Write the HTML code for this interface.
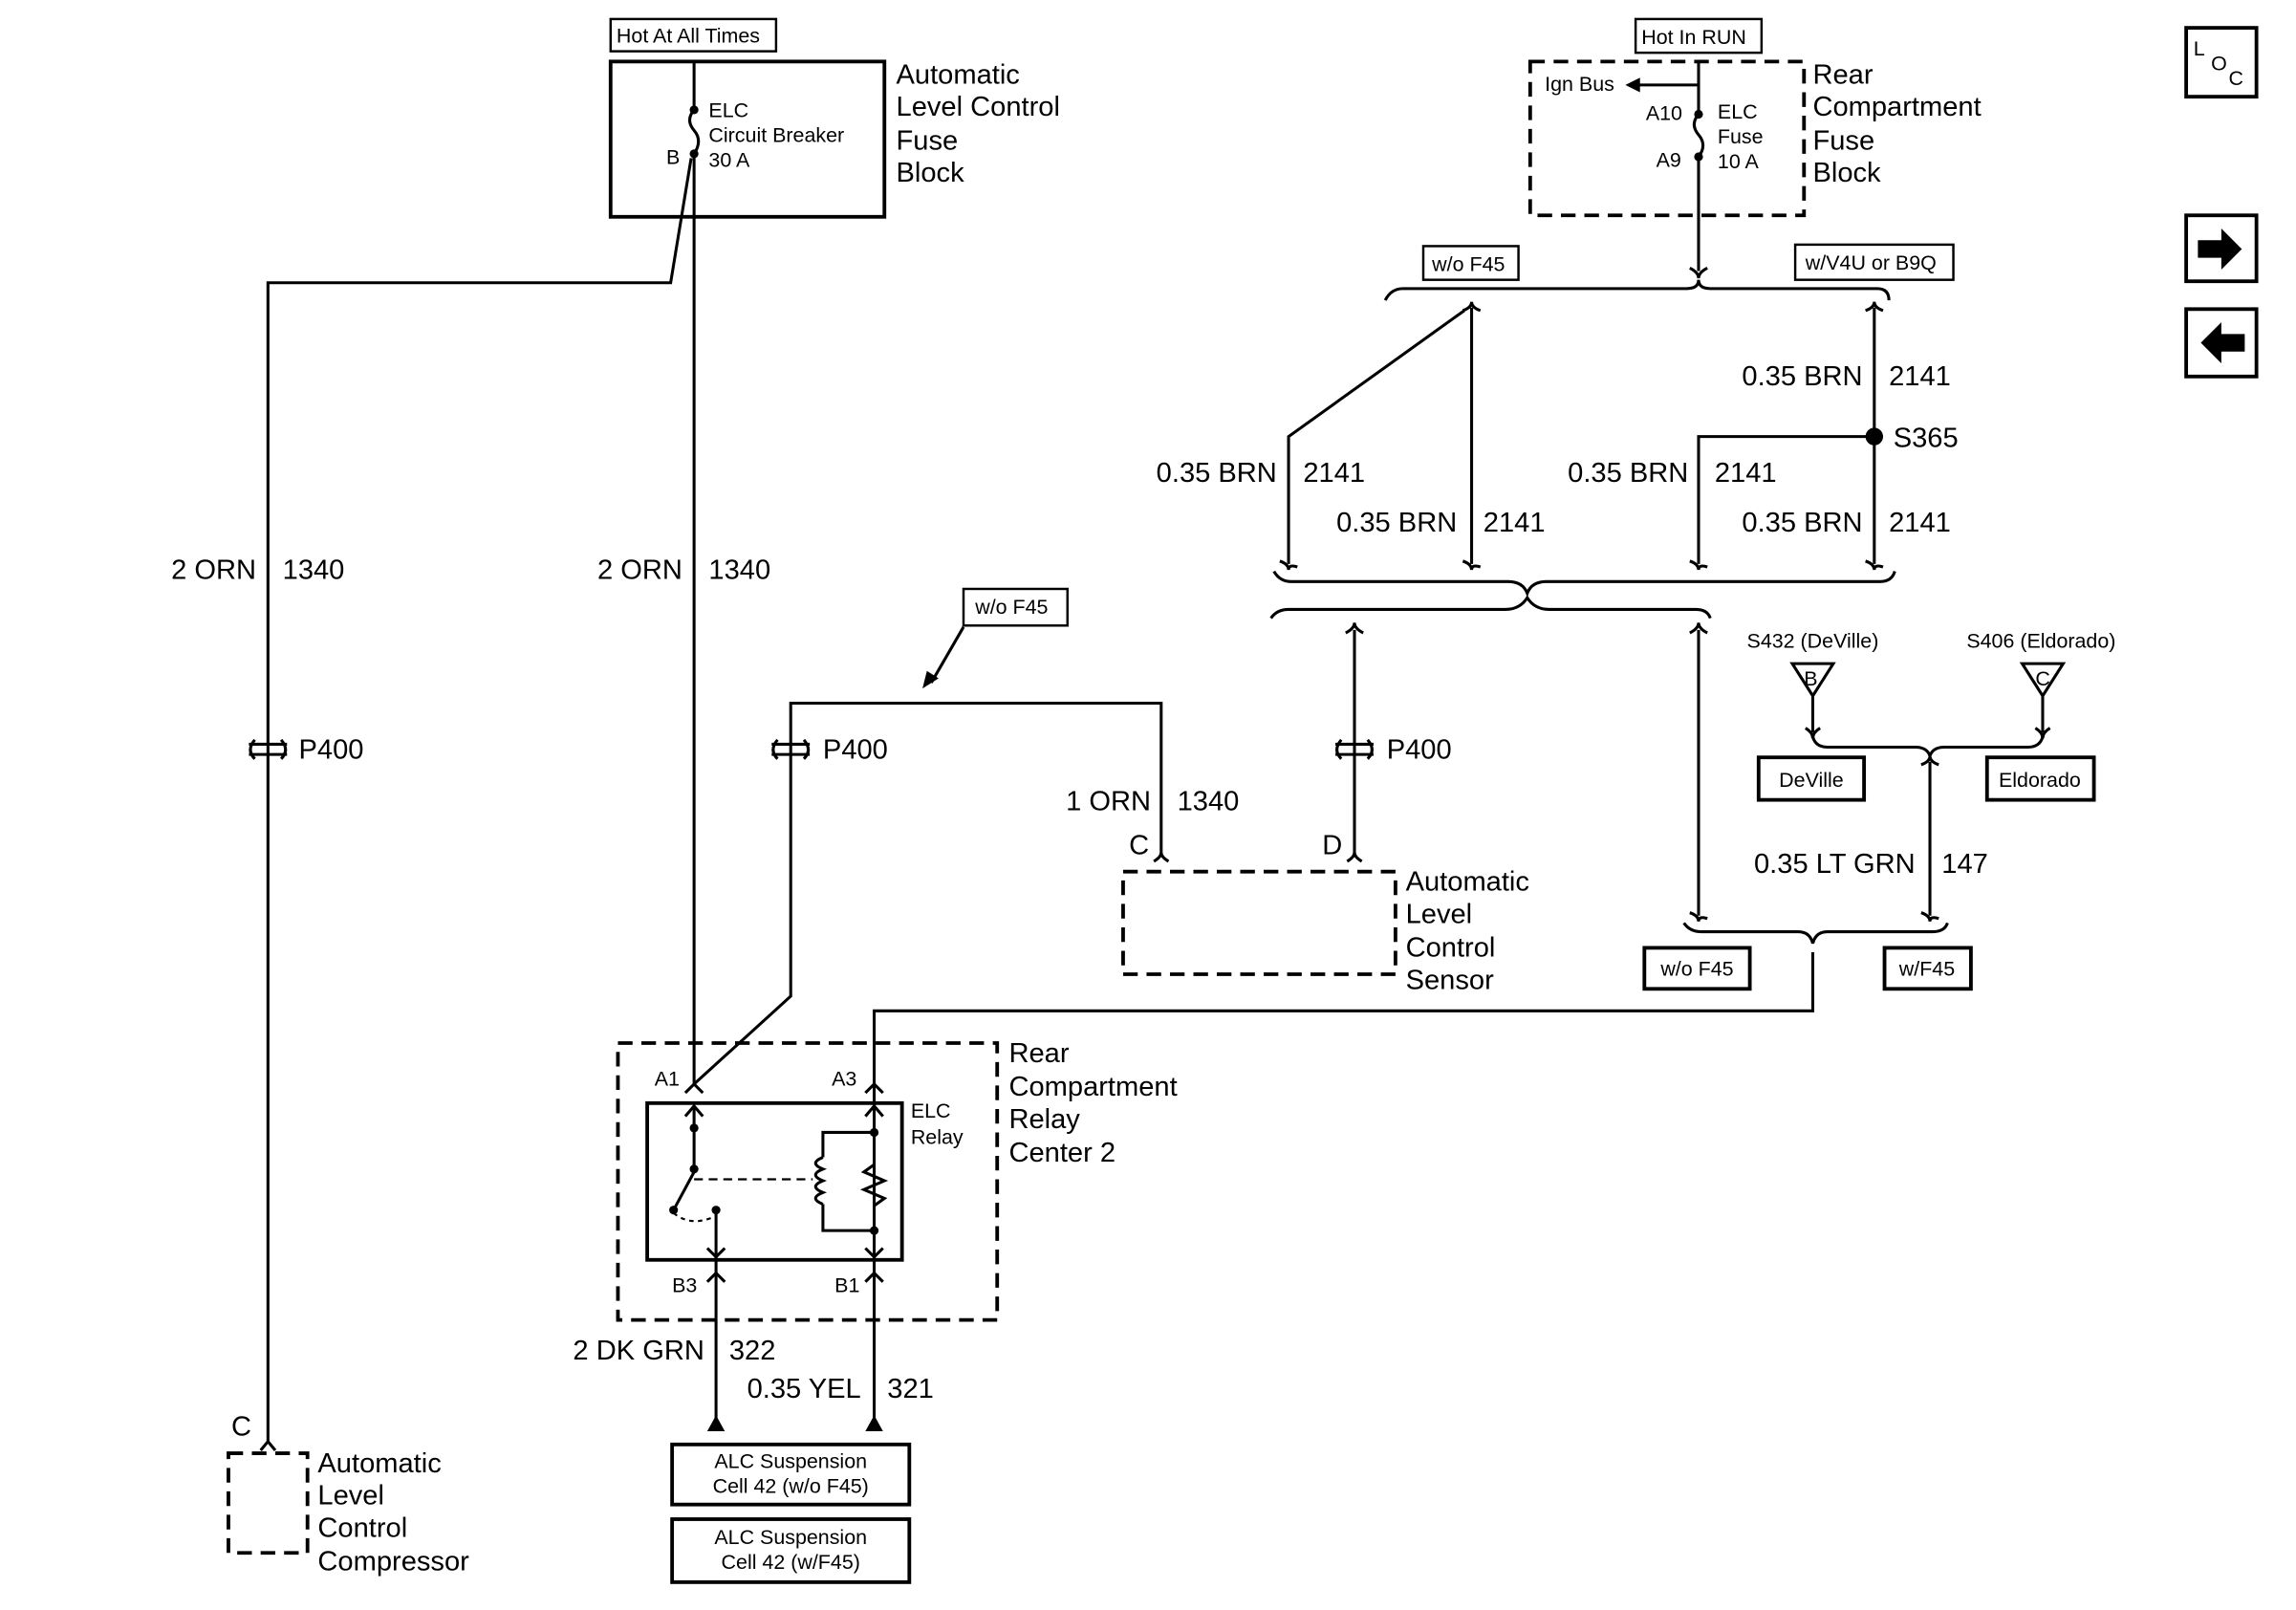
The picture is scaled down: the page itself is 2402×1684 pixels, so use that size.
<!DOCTYPE html>
<html><head><meta charset="utf-8"><style>
html,body{margin:0;padding:0;background:#fff}
svg{display:block}
text{font-family:"Liberation Sans",Arial,sans-serif;fill:#000}
.b{font-size:19px}
.s{font-size:14px}
.r{text-anchor:end}
</style></head><body>
<svg width="2402" height="1684" viewBox="0 0 1568 1099" preserveAspectRatio="none" xmlns="http://www.w3.org/2000/svg">
<g fill="none" stroke="#000" stroke-width="2">
<rect x="417" y="13" width="113" height="22" stroke-width="1.6"/>
<rect x="417" y="42" width="187" height="106" stroke-width="2.5"/>
<line x1="474" y1="42" x2="474" y2="75"/>
<path d="M474 75 q-6 7 0 14 q6 7 0 16"/>
<line x1="474" y1="105" x2="474" y2="740"/>
<polyline points="472,108 458,193 183,193 183,985"/>
<g stroke-width="2">
<path d="M170 508 h26 M170 515 h26 M174 505 q-6 7 0 13 M192 505 q6 7 0 13"/>
<path d="M527 508 h26 M527 515 h26 M531 505 q-6 7 0 13 M549 505 q6 7 0 13"/>
<path d="M912 508 h26 M912 515 h26 M916 505 q-6 7 0 13 M934 505 q6 7 0 13"/>
</g>
<path d="M178 990 l5 -6 l5 6"/>
<rect x="156" y="992" width="54" height="68" stroke-dasharray="10,6" stroke-width="2.5"/>
<polyline points="474,740 540,680 540,480 793,480 793,585"/>
<path d="M788 588 q5 -3 5 -6 q0 3 5 6"/>
<rect x="658" y="402" width="71" height="25" stroke-width="1.6"/>
<line x1="658" y1="428" x2="636" y2="466"/>
<line x1="925" y1="430" x2="925" y2="585"/>
<path d="M920 588 q5 -3 5 -6 q0 3 5 6"/>
<path d="M919 432 q6 -3 6 -7 q0 4 6 7"/>
<rect x="767" y="595" width="186" height="70" stroke-dasharray="10,6" stroke-width="2.5"/>
<polyline points="597,740 597,690 1238,690 1238,650"/>
<rect x="422" y="712" width="259" height="189" stroke-dasharray="10,6" stroke-width="2.5"/>
<rect x="442" y="753" width="174" height="107" stroke-width="2.5"/>
<path d="M468 746 l6 -6 l6 6 M591 746 l6 -6 l6 6"/>
<line x1="474" y1="755" x2="474" y2="798"/>
<path d="M468 762 l6 -7 l6 7"/>
<line x1="474" y1="800" x2="460" y2="826"/>
<line x1="489" y1="826" x2="489" y2="975"/>
<path d="M483 852 l6 6 l6 -6 M483 875 l6 -6 l6 6"/>
<path d="M460 828 q12 10 29 2" stroke-dasharray="3,3" stroke-width="1.4"/>
<line x1="474" y1="805" x2="555" y2="805" stroke-dasharray="6,4" stroke-width="1.4"/>
<line x1="597" y1="740" x2="597" y2="975"/>
<path d="M591 762 l6 -7 l6 7 M591 852 l6 6 l6 -6 M591 875 l6 -6 l6 6"/>
<polyline points="597,773 562,773 562,790"/>
<path d="M562 790 q-10 4 0 8 q-10 4 0 8 q-10 4 0 8 q-10 4 0 8"/>
<polyline points="562,822 562,840 597,840"/>
<polyline points="597,795 590,800 604,806 590,812 604,818 597,823"/>
<rect x="459" y="986" width="162" height="41" stroke-width="2.5"/>
<rect x="459" y="1037" width="162" height="43" stroke-width="2.5"/>
<rect x="1117" y="13" width="86" height="23" stroke-width="1.6"/>
<rect x="1045" y="42" width="187" height="105" stroke-dasharray="10,6" stroke-width="2.5"/>
<line x1="1160" y1="42" x2="1160" y2="78"/>
<path d="M1160 78 q-6 7 0 14 q6 7 0 15"/>
<line x1="1160" y1="107" x2="1160" y2="185"/>
<line x1="1160" y1="58" x2="1118" y2="58"/>
<path d="M1154 183 q6 3 6 7 q0 -4 6 -7"/>
<rect x="972" y="168" width="65" height="23" stroke-width="1.6"/>
<rect x="1226" y="167" width="108" height="24" stroke-width="1.6"/>
<path d="M946 205 q4 -8 12 -8 h194 q8 0 8 -6 q0 6 8 6 h114 q8 0 8 8"/>
<line x1="1005" y1="210" x2="1005" y2="385"/>
<path d="M999 212 q6 -2 6 -6 q0 4 6 6"/>
<polyline points="1000,212 880,298 880,385"/>
<line x1="1280" y1="210" x2="1280" y2="385"/>
<path d="M1274 212 q6 -2 6 -6 q0 4 6 6"/>
<polyline points="1280,298 1160,298 1160,385"/>
<path d="M874 383 q6 2 6 6 q0 -4 6 -2 M999 383 q6 2 6 6 q0 -4 6 -2 M1154 383 q6 2 6 6 q0 -4 6 -2 M1274 383 q6 2 6 6 q0 -4 6 -2"/>
<path d="M870 390 q4 7 12 7 h148 q10 0 13 8 q3 -8 13 -8 h228 q8 0 10 -7"/>
<path d="M868 422 q4 -6 12 -6 h148 q10 0 15 -8 q5 8 15 8 h100 q8 0 10 6"/>
<line x1="1160" y1="430" x2="1160" y2="625"/>
<path d="M1154 432 q6 -3 6 -7 q0 4 6 7"/>
<path d="M1224 453 h28 l-14 22 z M1381 453 h28 l-14 22 z"/>
<line x1="1238" y1="475" x2="1238" y2="500"/>
<line x1="1395" y1="475" x2="1395" y2="500"/>
<path d="M1233 497 q5 3 5 7 q0 -4 5 -7 M1390 497 q5 3 5 7 q0 -4 5 -7"/>
<path d="M1238 503 q2 7 10 7 h60 q8 0 10 6 q2 -6 10 -6 h57 q8 0 10 -7"/>
<line x1="1318" y1="520" x2="1318" y2="625"/>
<path d="M1312 522 q6 -2 6 -6 q0 4 6 6"/>
<rect x="1201" y="517" width="72" height="29" stroke-width="2.5"/>
<rect x="1357" y="517" width="73" height="29" stroke-width="2.5"/>
<path d="M1154 623 q6 2 6 6 q0 -4 6 -2 M1312 623 q6 2 6 6 q0 -4 6 -2"/>
<path d="M1150 630 q4 6 12 6 h66 q8 0 10 8 q2 -8 10 -8 h72 q8 0 10 -6"/>
<rect x="1123" y="647" width="72" height="28" stroke-width="2.5"/>
<rect x="1287" y="647" width="59" height="28" stroke-width="2.5"/>
<rect x="1493" y="19" width="48" height="47" stroke-width="2.5"/>
<rect x="1493" y="147" width="48" height="45" stroke-width="2.5"/>
<rect x="1493" y="211" width="48" height="46" stroke-width="2.5"/>
</g>
<g fill="#000">
<circle cx="474" cy="75" r="3"/><circle cx="474" cy="105" r="3"/>
<circle cx="1160" cy="78" r="3"/><circle cx="1160" cy="107" r="3"/>
<circle cx="1280" cy="298" r="6"/>
<circle cx="474" cy="798" r="3"/><circle cx="460" cy="826" r="3"/><circle cx="489" cy="826" r="3"/>
<circle cx="597" cy="773" r="3"/><circle cx="597" cy="840" r="3"/><circle cx="474" cy="770" r="3"/>
<path d="M630 470 l3 -12 l8 5 z"/>
<path d="M1110 58 l10 -5 v10 z"/>
<path d="M483 977 l6 -11 l6 11 z M591 977 l6 -11 l6 11 z"/>
<path d="M1501 164 h16 v-8 l14 14 l-14 14 v-8 h-16 z"/>
<path d="M1533 228 h-16 v-8 l-14 14 l14 14 v-8 h16 z"/>
</g>
<text class="s" x="421" y="29">Hot At All Times</text>
<text class="b" x="612" y="57">Automatic</text><text class="b" x="612" y="79">Level Control</text>
<text class="b" x="612" y="102">Fuse</text><text class="b" x="612" y="124">Block</text>
<text class="s" x="484" y="80">ELC</text><text class="s" x="484" y="97">Circuit Breaker</text>
<text class="s" x="484" y="114">30 A</text><text class="s" x="455" y="112">B</text>
<text class="b r" x="175" y="395">2 ORN</text><text class="b" x="193" y="395">1340</text>
<text class="b r" x="466" y="395">2 ORN</text><text class="b" x="484" y="395">1340</text>
<text class="b" x="204" y="518">P400</text><text class="b" x="562" y="518">P400</text><text class="b" x="947" y="518">P400</text>
<text class="b" x="158" y="980">C</text>
<text class="b" x="217" y="1005">Automatic</text><text class="b" x="217" y="1027">Level</text>
<text class="b" x="217" y="1049">Control</text><text class="b" x="217" y="1072">Compressor</text>
<text class="s" x="666" y="419">w/o F45</text>
<text class="b r" x="786" y="553">1 ORN</text><text class="b" x="804" y="553">1340</text>
<text class="b" x="771" y="583">C</text><text class="b" x="903" y="583">D</text>
<text class="b" x="960" y="608">Automatic</text><text class="b" x="960" y="630">Level</text>
<text class="b" x="960" y="653">Control</text><text class="b" x="960" y="675">Sensor</text>
<text class="b" x="689" y="725">Rear</text><text class="b" x="689" y="748">Compartment</text>
<text class="b" x="689" y="770">Relay</text><text class="b" x="689" y="793">Center 2</text>
<text class="s" x="447" y="741">A1</text><text class="s" x="568" y="741">A3</text>
<text class="s" x="459" y="882">B3</text><text class="s" x="570" y="882">B1</text>
<text class="s" x="622" y="763">ELC</text><text class="s" x="622" y="781">Relay</text>
<text class="b r" x="481" y="928">2 DK GRN</text><text class="b" x="498" y="928">322</text>
<text class="b r" x="588" y="954">0.35 YEL</text><text class="b" x="606" y="954">321</text>
<text class="s" x="540" y="1002" text-anchor="middle">ALC Suspension</text>
<text class="s" x="540" y="1019" text-anchor="middle">Cell 42 (w/o F45)</text>
<text class="s" x="540" y="1054" text-anchor="middle">ALC Suspension</text>
<text class="s" x="540" y="1071" text-anchor="middle">Cell 42 (w/F45)</text>
<text class="s" x="1121" y="30">Hot In RUN</text>
<text class="b" x="1238" y="57">Rear</text><text class="b" x="1238" y="79">Compartment</text>
<text class="b" x="1238" y="102">Fuse</text><text class="b" x="1238" y="124">Block</text>
<text class="s" x="1055" y="62">Ign Bus</text>
<text class="s" x="1124" y="82">A10</text><text class="s" x="1131" y="114">A9</text>
<text class="s" x="1173" y="81">ELC</text><text class="s" x="1173" y="98">Fuse</text><text class="s" x="1173" y="115">10 A</text>
<text class="s" x="978" y="185">w/o F45</text><text class="s" x="1233" y="184">w/V4U or B9Q</text>
<text class="b r" x="872" y="329">0.35 BRN</text><text class="b" x="890" y="329">2141</text>
<text class="b r" x="995" y="363">0.35 BRN</text><text class="b" x="1013" y="363">2141</text>
<text class="b r" x="1153" y="329">0.35 BRN</text><text class="b" x="1171" y="329">2141</text>
<text class="b r" x="1272" y="263">0.35 BRN</text><text class="b" x="1290" y="263">2141</text>
<text class="b r" x="1272" y="363">0.35 BRN</text><text class="b" x="1290" y="363">2141</text>
<text class="b" x="1293" y="305">S365</text>
<text class="s" x="1193" y="442">S432 (DeVille)</text><text class="s" x="1343" y="442">S406 (Eldorado)</text>
<text class="s" x="1232" y="468">B</text><text class="s" x="1390" y="468">C</text>
<text class="s" x="1237" y="537" text-anchor="middle">DeVille</text>
<text class="s" x="1393" y="537" text-anchor="middle">Eldorado</text>
<text class="b r" x="1308" y="596">0.35 LT GRN</text><text class="b" x="1326" y="596">147</text>
<text class="s" x="1159" y="666" text-anchor="middle">w/o F45</text>
<text class="s" x="1316" y="666" text-anchor="middle">w/F45</text>
<text class="s" x="1498" y="38">L</text><text class="s" x="1510" y="48">O</text><text class="s" x="1522" y="58">C</text>
</svg>
</body></html>
